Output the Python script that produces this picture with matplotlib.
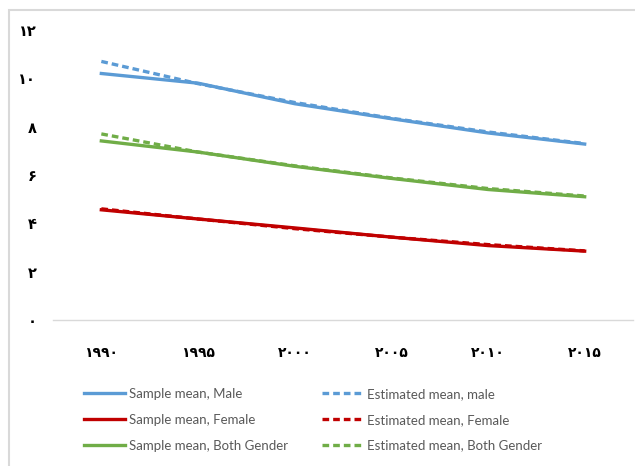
import matplotlib.pyplot as plt
from matplotlib.patches import Rectangle

# داده‌ها
years = ["۱۹۹۰", "۱۹۹۵", "۲۰۰۰", "۲۰۰۵", "۲۰۱۰", "۲۰۱۵"]
male_sample = [10.2, 9.8, 8.95, 8.33, 7.74, 7.28]
male_est = [10.7, 9.78, 9.0, 8.35, 7.78, 7.3]
female_sample = [4.56, 4.18, 3.81, 3.43, 3.08, 2.85]
female_est = [4.6, 4.18, 3.78, 3.43, 3.12, 2.86]
both_sample = [7.41, 6.95, 6.36, 5.86, 5.40, 5.10]
both_est = [7.7, 6.95, 6.38, 5.88, 5.44, 5.13]
yticks = [0, 2, 4, 6, 8, 10, 12]
ylabels = ["۰", "۲", "۴", "۶", "۸", "۱۰", "۱۲"]

blue = "#5B9BD5"
red = "#C00000"
green = "#70AD47"

fig = plt.figure(figsize=(6.35, 4.66), dpi=100)
ax = fig.add_axes([53/635, 1 - 320/466, 580/635, 290/466])

x = range(len(years))
lw = 2.4
ax.plot(x, male_sample, color=blue, lw=lw, label="Sample mean, Male")
ax.plot(x, male_est, color=blue, lw=lw, ls=(0, (2, 1.2)), label="Estimated mean, male")
ax.plot(x, female_sample, color=red, lw=lw, label="Sample mean, Female")
ax.plot(x, female_est, color=red, lw=lw, ls=(0, (2, 1.2)), label="Estimated mean, Female")
ax.plot(x, both_sample, color=green, lw=lw, label="Sample mean, Both Gender")
ax.plot(x, both_est, color=green, lw=lw, ls=(0, (2, 1.2)), label="Estimated mean, Both Gender")

ax.set_xlim(-0.5, len(years) - 0.5)
ax.set_ylim(0, 12)
ax.set_xticks(list(x))
ax.set_xticklabels(years, fontsize=10, fontweight="bold", family="DejaVu Sans")
ax.set_yticks(yticks)
ax.set_yticklabels(ylabels, fontsize=10.5, fontweight="bold", family="DejaVu Sans")
ax.tick_params(axis="both", length=0)
ax.tick_params(axis="x", pad=19)
ax.tick_params(axis="y", pad=12)
for s in ["top", "right", "left"]:
    ax.spines[s].set_visible(False)
ax.spines["bottom"].set_color("#D9D9D9")
ax.spines["bottom"].set_linewidth(1)

# ترتیب لِجِند: ردیف‌ها
h, l = ax.get_legend_handles_labels()
order = [0, 2, 4, 1, 3, 5]
leg = fig.legend([h[i] for i in order], [l[i] for i in order], ncol=2,
                 loc="upper left", bbox_to_anchor=(72/635, 1 - 376/466),
                 frameon=False, handlelength=3.1,
                 handletextpad=0.32, columnspacing=2.6, labelspacing=1.05,
                 prop={"family": "Lato", "size": 9.5})
for t in leg.get_texts():
    t.set_color("#595959")

fig.patches.append(Rectangle((9/635, -0.1), 1.2, 1 - 10/466 + 0.1,
                             transform=fig.transFigure, fill=False,
                             edgecolor="#D9D9D9", lw=1.5))

fig.savefig("out.png", dpi=100)
